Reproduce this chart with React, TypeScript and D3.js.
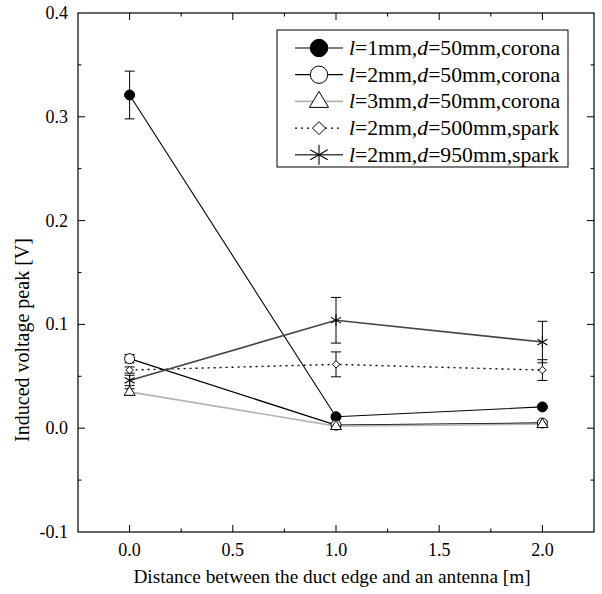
import React from "react";
import * as d3 from "d3";

const xValues = [0, 1, 2];
const s1 = [0.321, 0.011, 0.0205];
const e1 = [0.023, 0, 0];
const s2 = [0.067, 0.003, 0.005];
const e2 = [0.004, 0.002, 0.002];
const s3 = [0.035, 0.002, 0.004];
const e3 = [0.003, 0.002, 0.002];
const s4 = [0.056, 0.0615, 0.056];
const e4 = [0.003, 0.012, 0.010];
const s5 = [0.046, 0.104, 0.083];
const e5 = [0.005, 0.022, 0.020];

const xTicks = [0, 0.5, 1.0, 1.5, 2.0];
const yTicks = [-0.1, 0.0, 0.1, 0.2, 0.3, 0.4];
const legendL = ["1", "2", "3", "2", "2"];
const legendD = ["50", "50", "50", "500", "950"];
const legendKind = ["corona", "corona", "corona", "spark", "spark"];

type Sym = "fcircle" | "ocircle" | "triangle" | "diamond" | "star";

const series = [
  { y: s1, e: e1, sym: "fcircle" as Sym, color: "#000", width: 1.1, dash: "" },
  { y: s2, e: e2, sym: "ocircle" as Sym, color: "#000", width: 1.3, dash: "" },
  { y: s3, e: e3, sym: "triangle" as Sym, color: "#b4b4b4", width: 1.6, dash: "" },
  { y: s4, e: e4, sym: "diamond" as Sym, color: "#000", width: 1.4, dash: "2,4" },
  { y: s5, e: e5, sym: "star" as Sym, color: "#444", width: 1.6, dash: "" },
];

const FONT = "Liberation Serif, Times New Roman, serif";

function Marker({ sym, cx, cy, s }: { sym: Sym; cx: number; cy: number; s: number }) {
  if (sym === "fcircle") return <circle cx={cx} cy={cy} r={s} fill="#000" stroke="#000" />;
  if (sym === "ocircle") return <circle cx={cx} cy={cy} r={s} fill="#fff" stroke="#000" strokeWidth={1} />;
  if (sym === "triangle") {
    const h = s * 1.15;
    return (
      <polygon
        points={`${cx},${cy - h} ${cx - s * 1.1},${cy + h * 0.6} ${cx + s * 1.1},${cy + h * 0.6}`}
        fill="#fff"
        stroke="#000"
        strokeWidth={1}
      />
    );
  }
  if (sym === "diamond") {
    const r = s * 0.75;
    return (
      <polygon
        points={`${cx},${cy - r} ${cx + r},${cy} ${cx},${cy + r} ${cx - r},${cy}`}
        fill="#fff"
        stroke="#000"
        strokeWidth={1}
      />
    );
  }
  const r = s * 1.15;
  const dx = r * Math.cos(Math.PI / 6);
  const dy = r * Math.sin(Math.PI / 6);
  return (
    <g stroke="#000" strokeWidth={1.1}>
      <line x1={cx} y1={cy - r} x2={cx} y2={cy + r} />
      <line x1={cx - dx} y1={cy - dy} x2={cx + dx} y2={cy + dy} />
      <line x1={cx - dx} y1={cy + dy} x2={cx + dx} y2={cy - dy} />
    </g>
  );
}

export default function App() {
  const W = 602;
  const H = 594;
  const left = 78;
  const right = 594;
  const top = 13;
  const bottom = 532;
  const x = d3.scaleLinear().domain([-0.25, 2.25]).range([left, right]);
  const y = d3.scaleLinear().domain([-0.1, 0.4]).range([bottom, top]);
  const line = d3
    .line<number>()
    .x((_, i) => x(xValues[i]))
    .y((d) => y(d));

  const xMinor = d3.range(-0.25, 2.26, 0.25).filter((v) => v > -0.25 && v < 2.25);
  const yMinor = d3.range(-0.1, 0.401, 0.05).filter((v) => v > -0.099 && v < 0.399);
  const ts = { fontFamily: FONT };

  const legX = 277;
  const legY = 30;
  const legW = 291;
  const legH = 137;
  const rowH = 26.7;

  return (
    <svg
      width={W}
      height={H}
      style={{ position: "absolute", left: 0, top: 0, background: "#fff", fontFamily: FONT }}
    >
      <rect x={0} y={0} width={W} height={H} fill="#fff" />
      {/* ticks */}
      <g stroke="#000" strokeWidth={1}>
        {xMinor.map((v, i) => {
          const isMajor = Math.abs(v * 2 - Math.round(v * 2)) < 1e-6;
          const len = isMajor ? 7 : 3.5;
          return (
            <g key={"xt" + i}>
              <line x1={x(v)} x2={x(v)} y1={bottom} y2={bottom - len} />
              <line x1={x(v)} x2={x(v)} y1={top} y2={top + len} />
            </g>
          );
        })}
        {yMinor.map((v, i) => {
          const isMajor = Math.abs(v * 10 - Math.round(v * 10)) < 1e-6;
          const len = isMajor ? 7 : 3.5;
          return (
            <g key={"yt" + i}>
              <line x1={left} x2={left + len} y1={y(v)} y2={y(v)} />
              <line x1={right} x2={right - len} y1={y(v)} y2={y(v)} />
            </g>
          );
        })}
      </g>
      <rect x={left} y={top} width={right - left} height={bottom - top} fill="none" stroke="#000" strokeWidth={1.2} />

      {/* tick labels */}
      {xTicks.map((v) => (
        <text key={"xl" + v} style={ts} x={x(v)} y={bottom + 24} fontSize={18} textAnchor="middle">
          {v.toFixed(1)}
        </text>
      ))}
      {yTicks.map((v) => (
        <text key={"yl" + v} style={ts} x={left - 10} y={y(v) + 6} fontSize={18} textAnchor="end">
          {v.toFixed(1)}
        </text>
      ))}
      <text style={ts} x={332} y={583} fontSize={19.3} textAnchor="middle">
        Distance between the duct edge and an antenna [m]
      </text>
      <text
        style={ts}
        transform={`translate(29, 340) rotate(-90)`}
        fontSize={20}
        textAnchor="middle"
      >
        Induced voltage peak [V]
      </text>

      {/* lines */}
      {series.map((s, i) => (
        <path
          key={"ln" + i}
          d={line(s.y) || ""}
          fill="none"
          stroke={s.color}
          strokeWidth={s.width}
          strokeDasharray={s.dash || undefined}
        />
      ))}
      {/* error bars */}
      <g stroke="#000" strokeWidth={1}>
        {series.map((s, i) =>
          s.y.map((v, j) =>
            s.e[j] > 0 ? (
              <g key={`eb${i}-${j}`}>
                <line x1={x(xValues[j])} x2={x(xValues[j])} y1={y(v - s.e[j])} y2={y(v + s.e[j])} />
                <line x1={x(xValues[j]) - 5} x2={x(xValues[j]) + 5} y1={y(v - s.e[j])} y2={y(v - s.e[j])} />
                <line x1={x(xValues[j]) - 5} x2={x(xValues[j]) + 5} y1={y(v + s.e[j])} y2={y(v + s.e[j])} />
              </g>
            ) : null
          )
        )}
      </g>
      {/* markers */}
      {series.map((s, i) =>
        s.y.map((v, j) => <Marker key={`m${i}-${j}`} sym={s.sym} cx={x(xValues[j])} cy={y(v)} s={5} />)
      )}

      {/* legend */}
      <rect x={legX} y={legY} width={legW} height={legH} fill="#fff" stroke="#000" strokeWidth={1} />
      {series.map((s, i) => {
        const cy = legY + 18 + i * rowH;
        return (
          <g key={"lg" + i}>
            <line
              x1={legX + 18}
              x2={legX + 66}
              y1={cy}
              y2={cy}
              stroke={s.color}
              strokeWidth={s.width}
              strokeDasharray={s.dash || undefined}
            />
            <Marker sym={s.sym} cx={legX + 42} cy={cy} s={8.7} />
            <text style={ts} x={legX + 72} y={cy + 7} fontSize={21.7}>
              <tspan fontStyle="italic">l</tspan>={legendL[i]}mm,<tspan fontStyle="italic">d</tspan>={legendD[i]}mm,
              {legendKind[i]}
            </text>
          </g>
        );
      })}
    </svg>
  );
}
